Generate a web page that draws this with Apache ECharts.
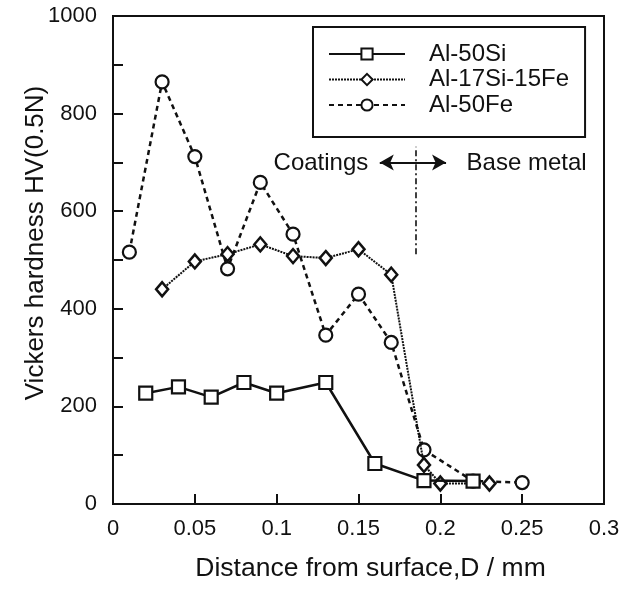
<!DOCTYPE html>
<html>
<head>
<meta charset="utf-8">
<script src="https://cdn.jsdelivr.net/npm/echarts@6/dist/echarts.min.js"></script>
<style>
html,body{margin:0;padding:0;background:#fff;}
#c{width:634px;height:590px;}
</style>
</head>
<body>
<div id="c"></div>
<script>
// Data
var seriesNames = ['Al-50Si', 'Al-17Si-15Fe', 'Al-50Fe'];
var alSiX = [0.02, 0.04, 0.06, 0.08, 0.10, 0.13, 0.16, 0.19, 0.22];
var alSiY = [227, 240, 219, 249, 227, 249, 83, 48, 47];
var alSiFeX = [0.03, 0.05, 0.07, 0.09, 0.11, 0.13, 0.15, 0.17, 0.19, 0.20, 0.23];
var alSiFeY = [440, 497, 512, 532, 508, 504, 522, 470, 80, 42, 42];
var alFeX = [0.01, 0.03, 0.05, 0.07, 0.09, 0.11, 0.13, 0.15, 0.17, 0.19, 0.22, 0.25];
var alFeY = [516, 865, 712, 482, 659, 553, 346, 430, 331, 111, 47, 44];
var xTicks = [0, 0.05, 0.1, 0.15, 0.2, 0.25, 0.3];
var yTicks = [0, 200, 400, 600, 800, 1000];
var boundaryX = 0.185;
var boundaryY = [512, 732];
var arrowX = [0.163, 0.2035];
var arrowY = 700;
var labelCoatings = {text: 'Coatings', x: 0.156, y: 699};
var labelBase = {text: 'Base metal', x: 0.216, y: 699};

function pairs(xs, ys) { return xs.map(function (x, i) { return [x, ys[i]]; }); }

var FONT = '"Liberation Sans", Arial, sans-serif';
var chart = echarts.init(document.getElementById('c'), null, {renderer: 'canvas'});

var option = {
  backgroundColor: '#fff',
  animation: false,
  textStyle: {fontFamily: FONT, color: '#111'},
  grid: {left: 113, top: 16, right: 30, bottom: 86, show: true, borderColor: '#111', borderWidth: 2, backgroundColor: 'transparent'},
  legend: {
    orient: 'vertical',
    left: 313, top: 27,
    data: seriesNames,
    itemWidth: 76, itemHeight: 14, itemGap: 1.5,
    padding: [15, 16, 20, 15],
    borderColor: '#111', borderWidth: 2,
    textStyle: {fontFamily: FONT, fontSize: 24, color: '#111', padding: [0, 0, 0, 19]}
  },
  xAxis: {
    type: 'value', min: 0, max: 0.3, interval: 0.05,
    name: 'Distance from surface,D / mm', nameLocation: 'middle', nameGap: 51,
    nameTextStyle: {fontFamily: FONT, fontSize: 26.5, color: '#111', padding: [0, 0, 0, 24]},
    axisLine: {show: true, lineStyle: {color: '#111', width: 2}},
    axisTick: {show: true, inside: true, length: 10, lineStyle: {color: '#111', width: 2}},
    axisLabel: {fontFamily: FONT, fontSize: 22, color: '#111', margin: 14,
      formatter: function (v) { var r = Math.round(v * 100) / 100; return xTicks.indexOf(r) >= 0 ? String(r) : ''; }},
    splitLine: {show: false}
  },
  yAxis: {
    type: 'value', min: 0, max: 1000, interval: 100,
    name: 'Vickers hardness HV(0.5N)', nameLocation: 'middle', nameGap: 64,
    nameMoveOverlap: false,
    nameTextStyle: {fontFamily: FONT, fontSize: 26, color: '#111', padding: [0, 0, 0, 34]},
    axisLine: {show: true, lineStyle: {color: '#111', width: 2}},
    axisTick: {show: true, inside: true, length: 10, lineStyle: {color: '#111', width: 2}},
    axisLabel: {fontFamily: FONT, fontSize: 22, color: '#111', margin: 16,
      formatter: function (v) { return yTicks.indexOf(v) >= 0 ? String(v) : ''; }},
    splitLine: {show: false}
  },
  series: [
    {
      name: seriesNames[2], type: 'line', data: pairs(alFeX, alFeY), z: 2,
      symbol: 'circle', symbolSize: 13,
      itemStyle: {color: '#fff', borderColor: '#111', borderWidth: 2.2},
      lineStyle: {color: '#111', width: 2.5, type: [5, 4]},
      markLine: {
        silent: true, symbol: ['none', 'none'], label: {show: false},
        lineStyle: {color: '#111', width: 1.6, type: [6, 3, 2, 3]},
        data: [[{coord: [boundaryX, boundaryY[0]]}, {coord: [boundaryX, boundaryY[1]]}]]
      }
    },
    {
      name: seriesNames[1], type: 'line', data: pairs(alSiFeX, alSiFeY), z: 3,
      symbol: 'diamond', symbolSize: [12, 14],
      itemStyle: {color: '#fff', borderColor: '#111', borderWidth: 2.5},
      lineStyle: {color: '#111', width: 2, type: [2, 1]},
      markLine: {
        silent: true, symbol: ['arrow', 'arrow'], symbolSize: [12, 14], label: {show: false},
        lineStyle: {color: '#111', width: 2, type: 'solid'},
        data: [[{coord: [arrowX[0], arrowY]}, {coord: [arrowX[1], arrowY]}]]
      },
      markPoint: {
        silent: true, symbol: 'circle', symbolSize: 0,
        data: [
          {coord: [labelCoatings.x, labelCoatings.y], value: labelCoatings.text,
           label: {show: true, formatter: labelCoatings.text, position: 'left', distance: 0, fontFamily: FONT, fontSize: 24, color: '#111'}},
          {coord: [labelBase.x, labelBase.y], value: labelBase.text,
           label: {show: true, formatter: labelBase.text, position: 'right', distance: 0, fontFamily: FONT, fontSize: 24, color: '#111'}}
        ]
      }
    },
    {
      name: seriesNames[0], type: 'line', data: pairs(alSiX, alSiY), z: 4,
      symbol: 'rect', symbolSize: 13,
      itemStyle: {color: '#fff', borderColor: '#111', borderWidth: 2.2},
      lineStyle: {color: '#111', width: 2.5, type: 'solid'}
    }
  ]
};
chart.setOption(option);
</script>
</body>
</html>
